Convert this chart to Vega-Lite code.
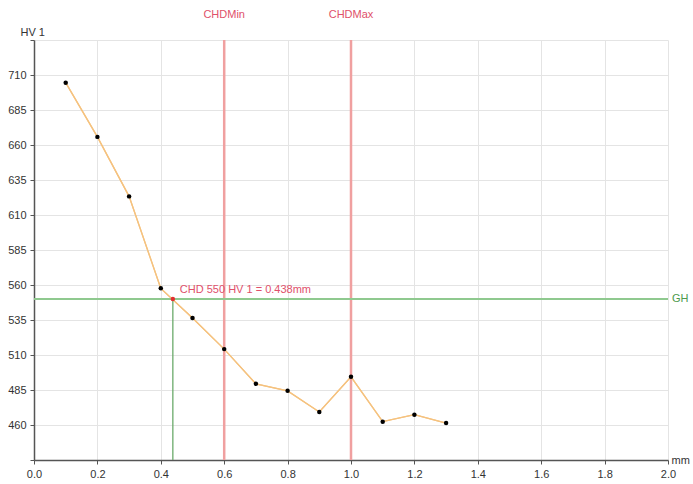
{
  "$schema": "https://vega.github.io/schema/vega-lite/v6.json",
  "width": 634,
  "height": 420,
  "autosize": "none",
  "padding": {"left": 34, "top": 40, "right": 25, "bottom": 24},
  "background": "white",
  "config": {
    "font": "Liberation Sans",
    "view": {"stroke": null},
    "axis": {"labelFont": "Liberation Sans", "labelFontSize": 11, "labelColor": "#333333", "labelOverlap": false, "labelFlush": false, "titleFont": "Liberation Sans", "titleFontSize": 11, "titleFontWeight": "normal", "titleColor": "#333333", "gridColor": "#e4e4e4", "gridWidth": 1, "domainColor": "#555555", "domainWidth": 1.5, "tickColor": "#555555", "tickSize": 4}
  },
  "datasets": {
    "pts": [
      {"x": 0.1, "y": 704.5}, {"x": 0.2, "y": 665.8}, {"x": 0.3, "y": 623.3},
      {"x": 0.4, "y": 557.6}, {"x": 0.5, "y": 536.4}, {"x": 0.6, "y": 514.2},
      {"x": 0.7, "y": 489.4}, {"x": 0.8, "y": 484.4}, {"x": 0.9, "y": 469.3},
      {"x": 1.0, "y": 494.4}, {"x": 1.1, "y": 462.4}, {"x": 1.2, "y": 467.4},
      {"x": 1.3, "y": 461.4}
    ],
    "limits": [{"x": 0.6, "y": 753, "label": "CHDMin"}, {"x": 1.0, "y": 753, "label": "CHDMax"}],
    "chd": [{"x": 0.438, "y": 550, "y0": 435, "label": "CHD 550 HV 1 = 0.438mm"}],
    "gh": [{"x": 2.0, "y": 550, "label": "GH"}]
  },
  "layer": [
    {
      "data": {"name": "pts"},
      "mark": {"type": "line", "color": "#f5c27f", "strokeWidth": 1.3},
      "encoding": {
        "x": {"field": "x", "type": "quantitative", "scale": {"domain": [0, 2], "nice": false, "zero": false},
              "axis": {"title": "mm", "titleAngle": 0, "titleAlign": "left", "titleBaseline": "middle", "titleX": 637, "titleY": 0, "values": [0, 0.2, 0.4, 0.6, 0.8, 1.0, 1.2, 1.4, 1.6, 1.8, 2.0], "tickCount": 30, "format": ".1f", "labelPadding": 4}},
        "y": {"field": "y", "type": "quantitative", "scale": {"domain": [435, 735], "nice": false, "zero": false},
              "axis": {"title": "HV 1", "titleAngle": 0, "titleAlign": "left", "titleBaseline": "alphabetic", "titleX": -14, "titleY": -5, "values": [435, 460, 485, 510, 535, 560, 585, 610, 635, 660, 685, 710, 735], "tickCount": 30, "labelExpr": "datum.value == 435 || datum.value == 735 ? '' : datum.label", "labelPadding": 4}}
      }
    },
    {
      "data": {"name": "limits"},
      "mark": {"type": "rule", "color": "#f0a0a0", "strokeWidth": 2.5},
      "encoding": {"x": {"field": "x", "type": "quantitative"}}
    },
    {
      "data": {"name": "gh"},
      "mark": {"type": "rule", "color": "#8fc98f", "strokeWidth": 2},
      "encoding": {"y": {"field": "y", "type": "quantitative"}}
    },
    {
      "data": {"name": "chd"},
      "mark": {"type": "rule", "color": "#6aaa6a", "strokeWidth": 1.3},
      "encoding": {"x": {"field": "x", "type": "quantitative"}, "y": {"field": "y0", "type": "quantitative"}, "y2": {"field": "y"}}
    },
    {
      "data": {"name": "pts"},
      "mark": {"type": "line", "color": "#f5c27f", "strokeWidth": 1.3},
      "encoding": {"x": {"field": "x", "type": "quantitative"}, "y": {"field": "y", "type": "quantitative"}}
    },
    {
      "data": {"name": "pts"},
      "mark": {"type": "point", "filled": true, "color": "#000000", "size": 20, "opacity": 1},
      "encoding": {"x": {"field": "x", "type": "quantitative"}, "y": {"field": "y", "type": "quantitative"}}
    },
    {
      "data": {"name": "chd"},
      "mark": {"type": "point", "filled": true, "color": "#e03030", "size": 20, "opacity": 1},
      "encoding": {"x": {"field": "x", "type": "quantitative"}, "y": {"field": "y", "type": "quantitative"}}
    },
    {
      "data": {"name": "chd"},
      "mark": {"type": "text", "color": "#e0506a", "fontSize": 11, "align": "left", "baseline": "alphabetic", "dx": 7, "dy": -6},
      "encoding": {"x": {"field": "x", "type": "quantitative"}, "y": {"field": "y", "type": "quantitative"}, "text": {"field": "label"}}
    },
    {
      "data": {"name": "limits"},
      "mark": {"type": "text", "color": "#e0506a", "fontSize": 11, "align": "center", "baseline": "middle", "clip": false},
      "encoding": {"x": {"field": "x", "type": "quantitative"}, "y": {"field": "y", "type": "quantitative"}, "text": {"field": "label"}}
    },
    {
      "data": {"name": "gh"},
      "mark": {"type": "text", "color": "#4c9a4c", "fontSize": 11, "align": "left", "baseline": "middle", "dx": 4, "clip": false},
      "encoding": {"x": {"field": "x", "type": "quantitative"}, "y": {"field": "y", "type": "quantitative"}, "text": {"field": "label"}}
    }
  ]
}
